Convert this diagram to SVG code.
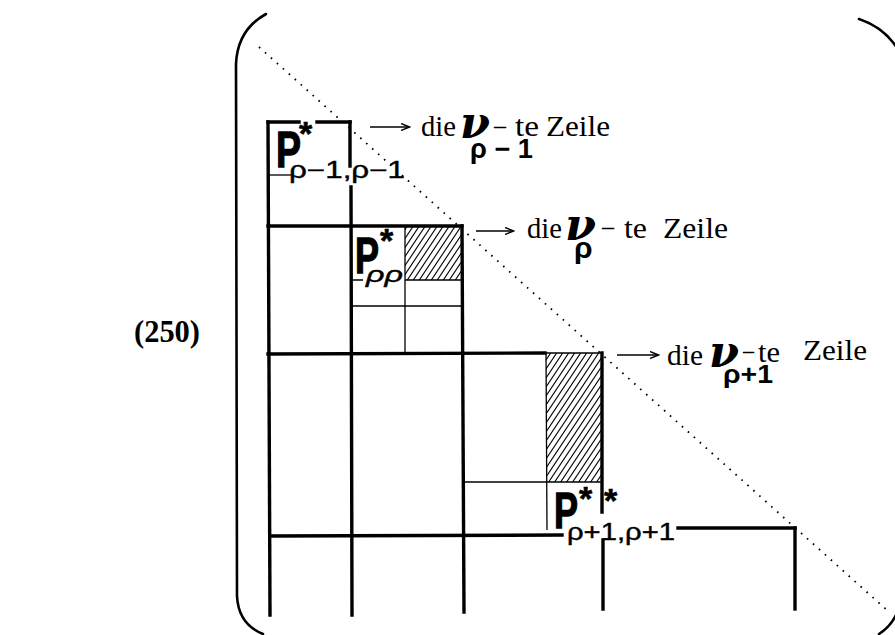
<svg xmlns="http://www.w3.org/2000/svg" width="895" height="635" viewBox="0 0 895 635">
<style>
.thick{stroke:#000;stroke-width:3.4;fill:none;stroke-linecap:square}
.thin{stroke:#000;stroke-width:1.3;fill:none}
.brk{stroke:#000;stroke-width:2.6;fill:none;stroke-linecap:round}
.ser{font-family:"Liberation Serif",serif;font-size:29px;fill:#000}
.nu{font-family:"DejaVu Serif","Liberation Serif",serif;font-size:44px;font-weight:bold;font-style:italic;fill:#000}
.sub{font-family:"Liberation Sans",sans-serif;font-weight:bold;fill:#000}
.P{font-family:"Liberation Sans",sans-serif;font-weight:bold;font-size:50px;fill:#000;stroke:#000;stroke-width:1.3}
.ast{font-family:"Liberation Sans",sans-serif;font-weight:bold;font-size:34px;fill:#000;stroke:#000;stroke-width:0.6}
.ps{font-family:"Liberation Sans",sans-serif;font-size:23px;fill:#000;stroke:#000;stroke-width:0.4}
.eq{font-family:"Liberation Serif",serif;font-weight:bold;font-size:32px;fill:#000}
.arr{stroke:#000;stroke-width:1.5;fill:none;marker-end:url(#ah)}
.dot{stroke:#000;stroke-width:1.8;fill:none;stroke-dasharray:1.6 6.4}
</style>
<defs>
<marker id="ah" markerWidth="10" markerHeight="8" refX="8" refY="4" orient="auto" markerUnits="userSpaceOnUse">
<path d="M0,0.5 L8.5,4 L0,7.5" fill="none" stroke="#000" stroke-width="1.4"/>
</marker>
<pattern id="hatch" patternUnits="userSpaceOnUse" width="6" height="9">
<path d="M-1,10.5 L7,-1.5 M-7,10.5 L1,-1.5 M5,10.5 L13,-1.5" stroke="#000" stroke-width="1.1"/>
</pattern>
</defs>
<rect width="895" height="635" fill="#fff"/>

<g id="equation-number">
<text class="eq" x="134" y="342" textLength="66" lengthAdjust="spacingAndGlyphs">(250)</text>
</g>

<g id="brackets">
<path class="brk" d="M266,14 C248,24 237,40 236,64 L237,596 C238,616 248,628 263,634"/>
<path class="brk" d="M859,19 C874,24 888,34 897,48"/>
<path class="brk" d="M879,634 C887,629 893,622 897,613"/>
</g>

<g id="grid">
<path class="thick" d="M268,122 L270,615"/>
<path class="thick" d="M350,122 L350,166 M351,187 L352,615"/>
<path class="thick" d="M462,226 L464,612"/>
<path class="thick" d="M602,353 L602,512 M603,540 L603,609"/>
<path class="thick" d="M795,528 L795,609"/>
<path class="thick" d="M268,122 L299,122 M317,122 L350,122"/>
<path class="thick" d="M268,226 L462,226"/>
<path class="thick" d="M268,354 L545,353"/>
<path class="thick" d="M270,536 L562,535"/>
<path class="thick" d="M678,528 L795,528"/>
</g>

<g id="block-rho-minus-1">
<path class="thin" d="M268,175 L291,175"/>
<text class="P" x="276" y="167" textLength="25" lengthAdjust="spacingAndGlyphs">P</text>
<text class="ast" x="299" y="145">*</text>
<text class="ps" x="289" y="178" textLength="116" lengthAdjust="spacingAndGlyphs">ρ−1,ρ−1</text>
</g>

<g id="block-rho">
<rect x="405" y="226" width="57" height="54" fill="url(#hatch)"/>
<path class="thin" d="M405,226 L405,353"/>
<path class="thin" d="M352,280 L363,280 M405,280 L462,280"/>
<path class="thin" d="M351,306 L462,306"/>
<text class="P" x="355" y="273" textLength="24" lengthAdjust="spacingAndGlyphs">P</text>
<text class="ast" x="380" y="252">*</text>
<text class="ps" x="366" y="282" font-style="italic" font-size="30" textLength="37" lengthAdjust="spacingAndGlyphs">ρρ</text>
</g>

<g id="block-rho-plus-1">
<rect x="546" y="353" width="56" height="129" fill="url(#hatch)"/>
<path class="thin" d="M546,353 L602,353"/>
<path class="thin" d="M546,353 L547,530"/>
<path class="thin" d="M464,482 L602,482"/>
<text class="P" x="554" y="528" textLength="24" lengthAdjust="spacingAndGlyphs">P</text>
<text class="ast" x="579" y="510">*</text>
<text class="ast" x="604" y="512">*</text>
<text class="ps" x="567" y="540" textLength="108" lengthAdjust="spacingAndGlyphs">ρ+1,ρ+1</text>
</g>

<g id="connectors">
<path class="dot" d="M259,47 L888,611"/>
<path class="arr" d="M370,127 L409,127"/>
<path class="arr" d="M476,231 L513,231"/>
<path class="arr" d="M617,355 L658,355"/>
</g>

<g id="label-row-1">
<text class="ser" x="421" y="136" textLength="35" lengthAdjust="spacingAndGlyphs">die</text>
<text class="nu" x="460" y="138" textLength="30" lengthAdjust="spacingAndGlyphs">ν</text>
<text class="ser" x="494" y="135" textLength="12" lengthAdjust="spacingAndGlyphs">–</text>
<text class="ser" x="515" y="136" textLength="24" lengthAdjust="spacingAndGlyphs">te</text>
<text class="ser" x="546" y="136" textLength="64" lengthAdjust="spacingAndGlyphs">Zeile</text>
<text class="sub" x="470" y="158" font-size="27" textLength="63" lengthAdjust="spacingAndGlyphs">ρ − 1</text>
</g>

<g id="label-row-2">
<text class="ser" x="527" y="238" textLength="35" lengthAdjust="spacingAndGlyphs">die</text>
<text class="nu" x="565" y="240" textLength="31" lengthAdjust="spacingAndGlyphs">ν</text>
<text class="ser" x="602" y="236" textLength="12" lengthAdjust="spacingAndGlyphs">–</text>
<text class="ser" x="624" y="238" textLength="23" lengthAdjust="spacingAndGlyphs">te</text>
<text class="ser" x="663" y="238" textLength="65" lengthAdjust="spacingAndGlyphs">Zeile</text>
<text class="sub" x="574" y="258" font-size="30">ρ</text>
</g>

<g id="label-row-3">
<text class="ser" x="667" y="365" textLength="36" lengthAdjust="spacingAndGlyphs">die</text>
<text class="nu" x="709" y="367" textLength="30" lengthAdjust="spacingAndGlyphs">ν</text>
<text class="ser" x="743" y="360" textLength="11" lengthAdjust="spacingAndGlyphs">–</text>
<text class="ser" x="758" y="362" textLength="22" lengthAdjust="spacingAndGlyphs">te</text>
<text class="ser" x="803" y="360" textLength="64" lengthAdjust="spacingAndGlyphs">Zeile</text>
<text class="sub" x="723" y="383" font-size="26" textLength="50" lengthAdjust="spacingAndGlyphs">ρ+1</text>
</g>
</svg>
